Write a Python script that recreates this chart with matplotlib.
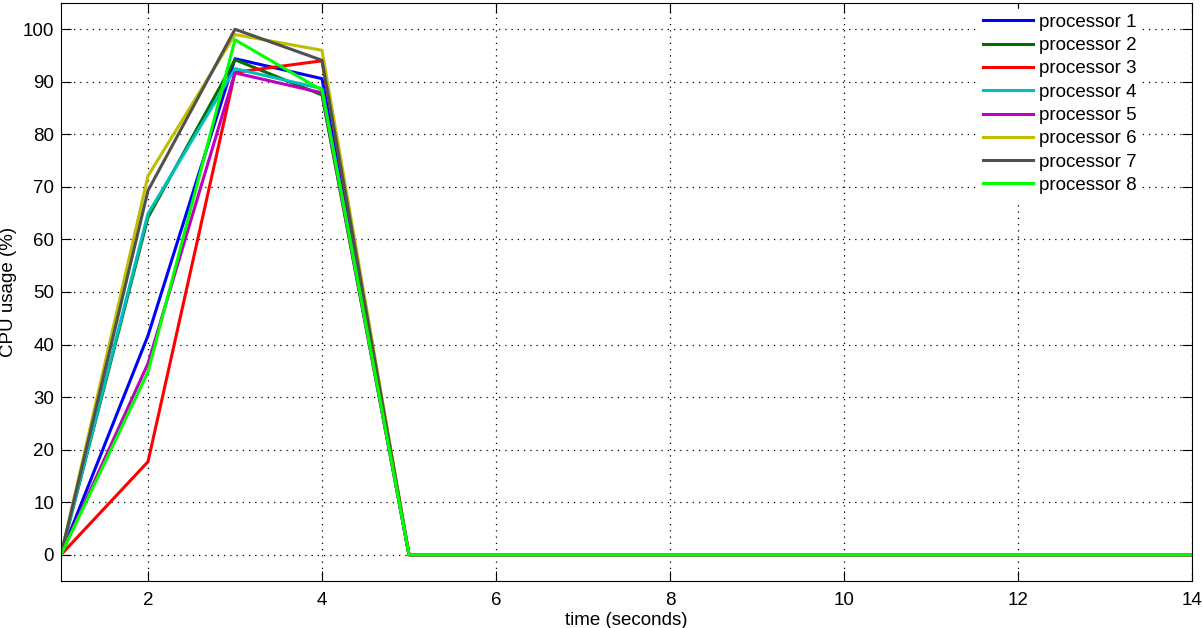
import matplotlib
matplotlib.use("Agg")
import matplotlib.pyplot as plt

plt.rcParams['font.family'] = ['Liberation Sans', 'DejaVu Sans']

time_s = list(range(1, 15))
labels = [f"processor {i}" for i in range(1, 9)]
tail = [0] * 10
p1 = [0, 41.7, 94.4, 90.6] + tail
p2 = [0, 64.2, 94.2, 87.5] + tail
p3 = [0, 17.7, 91.8, 94.0] + tail
p4 = [0, 64.9, 92.5, 88.7] + tail
p5 = [0, 36.4, 91.7, 87.9] + tail
p6 = [0, 72.1, 99.0, 96.0] + tail
p7 = [0, 69.3, 100.0, 94.1] + tail
p8 = [0, 34.8, 98.0, 88.4] + tail
series = [p1, p2, p3, p4, p5, p6, p7, p8]
colors = ['#0000ff', '#007000', '#ff0000', '#00bfbf', '#bf00bf', '#bfbf00', '#505050', '#00ff00']

fig = plt.figure(figsize=(12.03, 6.28), dpi=100)
ax = fig.add_axes([61/1203, 1-581/628, (1192-61)/1203, (581-3)/628])
for s, c, l in zip(series, colors, labels):
    ax.plot(time_s, s, color=c, lw=2.2, label=l)
ax.set_xlim(1, 14)
ax.set_ylim(-5, 105)
ax.set_xticks(range(2, 15, 2))
ax.set_yticks(range(0, 101, 10))
ax.tick_params(direction='in', top=True, right=True, labelsize=13.5, length=7, pad=5)
ax.tick_params(axis='x', pad=8)
ax.grid(True, color='black', linestyle=(0, (1, 4)), linewidth=0.9)
ax.set_xlabel('time (seconds)', fontsize=13.5, labelpad=2)
ax.set_ylabel('CPU usage (%)', fontsize=13.5, labelpad=4)
leg = ax.legend(loc='upper left', bbox_to_anchor=((978-61)/1131, 1.0 - 6/578), frameon=True,
                fontsize=13.5, handlelength=2.7, borderpad=0.25,
                borderaxespad=0.0, labelspacing=0.33, handletextpad=0.3, fancybox=False)
leg.get_frame().set_edgecolor('white')
leg.get_frame().set_alpha(1)
fig.savefig('out.png', dpi=100)
